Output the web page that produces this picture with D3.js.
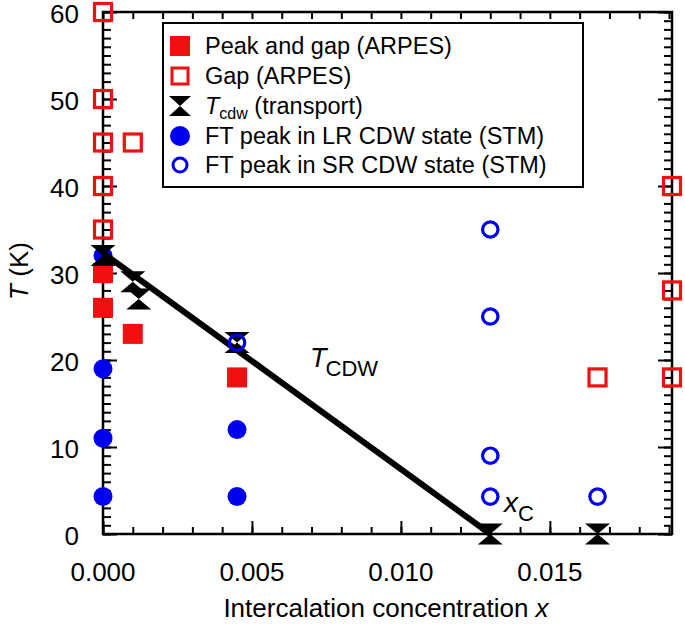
<!DOCTYPE html>
<html><head><meta charset="utf-8">
<script src="https://cdn.jsdelivr.net/npm/d3@7"></script>
<style>body{margin:0;background:#fff}svg{display:block;font-family:"Liberation Sans",Arial,sans-serif}</style>
</head><body><svg id="c" width="685" height="626"></svg>
<script>
// ---- data ----
const peakGapX = [0, 0, 0.001, 0.0045];
const peakGapT = [30, 26, 23, 18];
const gapX = [0, 0, 0, 0, 0, 0.001, 0.0166, 0.0191, 0.0191, 0.0191];
const gapT = [60, 50, 45, 40, 35, 45, 18, 40, 28, 18];
const tcdwX = [0, 0.001, 0.0012, 0.0045, 0.013, 0.0166];
const tcdwT = [32, 29, 27, 22, 0, 0];
const lrX = [0, 0, 0, 0, 0.0045, 0.0045];
const lrT = [32, 19, 11, 4.3, 12, 4.3];
const srX = [0.0045, 0.013, 0.013, 0.013, 0.013, 0.0166];
const srT = [22, 35, 25, 9, 4.3, 4.3];
const lineX = [0, 0.013];
const lineT = [32.3, 0];
const xTicks = [0, 0.005, 0.010, 0.015];
const xTickLabels = ["0.000", "0.005", "0.010", "0.015"];
const yTicks = [0, 10, 20, 30, 40, 50, 60];
const legendLabels = ["Peak and gap (ARPES)", "Gap (ARPES)", "cdw", "FT peak in LR CDW state (STM)", "FT peak in SR CDW state (STM)"];

const W = 685, H = 626;
const m = {l: 103, r: 13, t: 12, b: 92};
const svg = d3.select("#c");
const x = d3.scaleLinear().domain([0, 0.0191]).range([m.l, W - m.r]);
const y = d3.scaleLinear().domain([0, 60]).range([H - m.b, m.t]);
const RED = "#f01010", BLUE = "#0000f0";

// axes ticks (inward)
const minorX = d3.range(0, 0.0191, 0.001);
const minorY = d3.range(0, 61, 1);
const g = svg.append("g");
g.append("g").attr("transform", `translate(0,${y(0)})`).call(d3.axisBottom(x).tickValues(minorX).tickSize(-7).tickFormat(""));
g.append("g").attr("transform", `translate(0,${y(0)})`).call(d3.axisBottom(x).tickValues(xTicks).tickSize(-13).tickFormat(""));
g.append("g").attr("transform", `translate(0,${y(60)})`).call(d3.axisTop(x).tickValues(minorX).tickSize(-7).tickFormat(""));
g.append("g").attr("transform", `translate(${x(0)},0)`).call(d3.axisLeft(y).tickValues(minorY).tickSize(-8).tickFormat(""));
g.append("g").attr("transform", `translate(${x(0)},0)`).call(d3.axisLeft(y).tickValues(yTicks).tickSize(-14).tickFormat(""));
g.append("g").attr("transform", `translate(${x.range()[1]},0)`).call(d3.axisRight(y).tickValues(minorY).tickSize(-8).tickFormat(""));
g.append("g").attr("transform", `translate(${x.range()[1]},0)`).call(d3.axisRight(y).tickValues(yTicks).tickSize(-14).tickFormat(""));
g.selectAll(".domain").remove();
g.selectAll(".tick line").attr("stroke", "#000").attr("stroke-width", 2);
g.append("rect").attr("x", x(0)).attr("y", y(60)).attr("width", x.range()[1] - x(0)).attr("height", y(0) - y(60))
  .attr("fill", "none").attr("stroke", "#000").attr("stroke-width", 2.5);

// tick labels
svg.append("g").selectAll("text").data(xTicks).join("text")
  .attr("x", d => x(d)).attr("y", 581).attr("text-anchor", "middle").attr("font-size", 26)
  .text((d, i) => xTickLabels[i]);
svg.append("g").selectAll("text").data(yTicks).join("text")
  .attr("x", 79).attr("y", d => y(d) + 11).attr("text-anchor", "end").attr("font-size", 26)
  .text(d => d);

// axis titles
const xt = svg.append("text").attr("x", 386).attr("y", 617).attr("text-anchor", "middle").attr("font-size", 26);
xt.append("tspan").text("Intercalation concentration ");
xt.append("tspan").attr("font-style", "italic").text("x");
const yt = svg.append("text").attr("transform", "translate(28,271) rotate(-90)").attr("text-anchor", "middle").attr("font-size", 26);
yt.append("tspan").attr("font-style", "italic").text("T");
yt.append("tspan").text(" (K)");

// marker helpers
const SQ = 20;
function bowtie(cx, cy, w = 25, h = 21) {
  return `M${cx - w/2},${cy - h/2}L${cx + w/2},${cy - h/2}L${cx},${cy}L${cx + w/2},${cy + h/2}L${cx - w/2},${cy + h/2}L${cx},${cy}Z`;
}
const P = svg.append("g");
P.selectAll(".pg").data(peakGapX).join("rect").attr("class", "pg")
  .attr("x", d => x(d) - SQ/2).attr("y", (d, i) => y(peakGapT[i]) - SQ/2)
  .attr("width", SQ).attr("height", SQ).attr("fill", RED);
P.selectAll(".lr").data(lrX).join("circle").attr("class", "lr")
  .attr("cx", d => x(d)).attr("cy", (d, i) => y(lrT[i])).attr("r", 9.5).attr("fill", BLUE);
P.selectAll(".tc").data(tcdwX).join("path").attr("class", "tc")
  .attr("d", (d, i) => bowtie(x(d), y(tcdwT[i]))).attr("fill", "#000");
P.append("path").datum(lineX.map((d, i) => [d, lineT[i]]))
  .attr("d", d3.line().x(d => x(d[0])).y(d => y(d[1])))
  .attr("stroke", "#000").attr("stroke-width", 6).attr("fill", "none");
P.selectAll(".sr").data(srX).join("circle").attr("class", "sr")
  .attr("cx", d => x(d)).attr("cy", (d, i) => y(srT[i])).attr("r", 7.7)
  .attr("fill", "none").attr("stroke", BLUE).attr("stroke-width", 3.2);
P.selectAll(".gp").data(gapX).join("rect").attr("class", "gp")
  .attr("x", d => x(d) - 8.5).attr("y", (d, i) => y(gapT[i]) - 8.5)
  .attr("width", 17).attr("height", 17).attr("fill", "none").attr("stroke", RED).attr("stroke-width", 3.2);

// annotations
const ta = svg.append("text").attr("x", 310).attr("y", 367).attr("font-size", 27);
ta.append("tspan").attr("font-style", "italic").text("T");
ta.append("tspan").attr("font-size", 22).attr("dy", 9).attr("dx", -1).text("CDW");
const xc = svg.append("text").attr("x", 504).attr("y", 512).attr("font-size", 28);
xc.append("tspan").attr("font-style", "italic").text("x");
xc.append("tspan").attr("font-size", 22).attr("dy", 9).text("C");

// legend
const L = svg.append("g");
L.append("rect").attr("x", 163).attr("y", 23).attr("width", 420).attr("height", 164)
  .attr("fill", "#fff").attr("stroke", "#000").attr("stroke-width", 2);
const rowY = [46, 76, 106, 136, 165];
const mx = 180, tx = 205;
L.append("rect").attr("x", mx - 10).attr("y", rowY[0] - 10).attr("width", 20).attr("height", 20).attr("fill", RED);
L.append("rect").attr("x", mx - 8).attr("y", rowY[1] - 8).attr("width", 16).attr("height", 16).attr("fill", "none").attr("stroke", RED).attr("stroke-width", 3);
L.append("path").attr("d", bowtie(mx, rowY[2], 22, 20)).attr("fill", "#000");
L.append("circle").attr("cx", mx).attr("cy", rowY[3]).attr("r", 10).attr("fill", BLUE);
L.append("circle").attr("cx", mx).attr("cy", rowY[4]).attr("r", 7).attr("fill", "none").attr("stroke", BLUE).attr("stroke-width", 3);
legendLabels.forEach((s, i) => {
  const t = L.append("text").attr("x", tx).attr("y", rowY[i] + 8).attr("font-size", 23.5);
  if (i === 2) {
    t.append("tspan").attr("font-style", "italic").text("T");
    t.append("tspan").attr("font-size", 16).attr("dy", 5).text(s);
    t.append("tspan").attr("dy", -5).text(" (transport)");
  } else t.text(s);
});
</script></body></html>
